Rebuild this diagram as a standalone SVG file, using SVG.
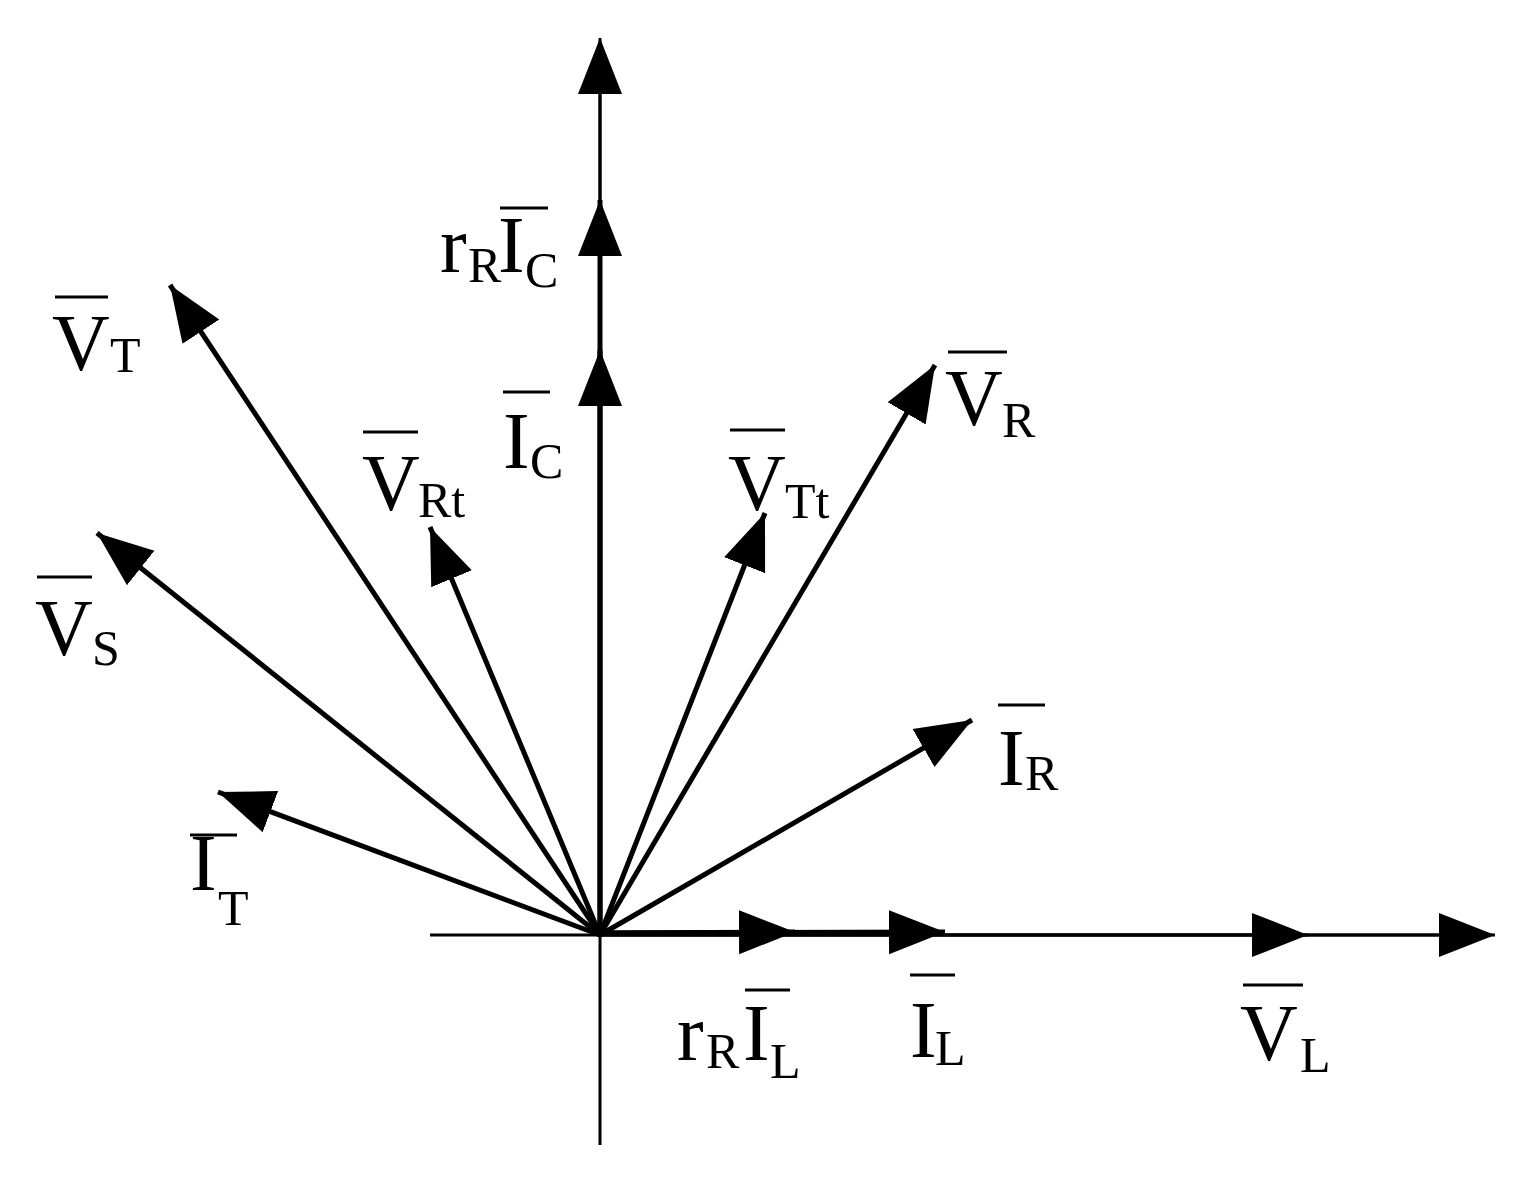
<svg xmlns="http://www.w3.org/2000/svg" width="1529" height="1179" viewBox="0 0 1529 1179">
<style>
.ax{stroke:#000;stroke-width:3;fill:none}
.v{stroke:#000;stroke-width:5;fill:none;marker-end:url(#ah)}
.b{stroke:#000;stroke-width:3}
text{font-family:"Liberation Serif","Times New Roman",serif;fill:#000}
.m{font-size:80px}
.s{font-size:50px}
</style>
<defs>
<marker id="ah" markerUnits="userSpaceOnUse" markerWidth="60" markerHeight="50" refX="56" refY="22" orient="auto" viewBox="0 0 60 44">
<path d="M0,0 L56,22 L0,44 Z" fill="#000"/>
</marker>
</defs>
<rect width="1529" height="1179" fill="#fff"/>
<g id="connectors">
<line class="ax" x1="600" y1="1145" x2="600" y2="60"/>
<line class="ax" x1="430" y1="935" x2="1470" y2="935"/>
<line class="v" x1="600" y1="935" x2="600" y2="38" style="stroke-width:3"/>
<line class="v" x1="600" y1="935" x2="600" y2="200"/>
<line class="v" x1="600" y1="935" x2="600" y2="350"/>
<line class="v" x1="600" y1="935" x2="1495" y2="935" style="stroke-width:3"/>
<line class="v" x1="600" y1="935" x2="1308" y2="935" style="stroke-width:3"/>
<line class="v" x1="600" y1="933" x2="945" y2="932"/>
<line class="v" x1="600" y1="933" x2="795" y2="932"/>
<line class="v" x1="600" y1="935" x2="170" y2="285"/>
<line class="v" x1="600" y1="935" x2="97" y2="533"/>
<line class="v" x1="600" y1="935" x2="218" y2="792"/>
<line class="v" x1="600" y1="935" x2="430" y2="527"/>
<line class="v" x1="600" y1="935" x2="765" y2="513"/>
<line class="v" x1="600" y1="935" x2="935" y2="365"/>
<line class="v" x1="600" y1="935" x2="972" y2="720"/>
</g>
<g id="VT"><text class="m" x="52" y="370">V</text><text class="s" x="110" y="372">T</text><line class="b" x1="55" y1="297" x2="108" y2="297"/></g>
<g id="VRt"><text class="m" x="362" y="510">V</text><text class="s" x="418" y="517">Rt</text><line class="b" x1="363" y1="432" x2="418" y2="432"/></g>
<g id="IC"><text class="m" x="503" y="468">I</text><text class="s" x="530" y="478">C</text><line class="b" x1="503" y1="392" x2="550" y2="392"/></g>
<g id="rRIC"><text class="m" x="440" y="272">r</text><text class="s" x="468" y="282">R</text><text class="m" x="498" y="272">I</text><text class="s" x="525" y="287">C</text><line class="b" x1="500" y1="208" x2="548" y2="208"/></g>
<g id="VTt"><text class="m" x="728" y="510">V</text><text class="s" x="785" y="518">Tt</text><line class="b" x1="730" y1="430" x2="785" y2="430"/></g>
<g id="VR"><text class="m" x="945" y="425">V</text><text class="s" x="1002" y="437">R</text><line class="b" x1="948" y1="352" x2="1007" y2="352"/></g>
<g id="VS"><text class="m" x="35" y="655">V</text><text class="s" x="92" y="665">S</text><line class="b" x1="37" y1="577" x2="92" y2="577"/></g>
<g id="IR"><text class="m" x="998" y="785">I</text><text class="s" x="1025" y="790">R</text><line class="b" x1="998" y1="705" x2="1045" y2="705"/></g>
<g id="IT"><text class="m" x="190" y="890">I</text><text class="s" x="218" y="925">T</text><line class="b" x1="190" y1="835" x2="237" y2="835"/></g>
<g id="rRIL"><text class="m" x="677" y="1060">r</text><text class="s" x="706" y="1068">R</text><text class="m" x="743" y="1060">I</text><text class="s" x="770" y="1078">L</text><line class="b" x1="745" y1="990" x2="790" y2="990"/></g>
<g id="IL"><text class="m" x="910" y="1057">I</text><text class="s" x="935" y="1065">L</text><line class="b" x1="910" y1="975" x2="955" y2="975"/></g>
<g id="VL"><text class="m" x="1240" y="1060">V</text><text class="s" x="1300" y="1072">L</text><line class="b" x1="1243" y1="985" x2="1303" y2="985"/></g>
</svg>
